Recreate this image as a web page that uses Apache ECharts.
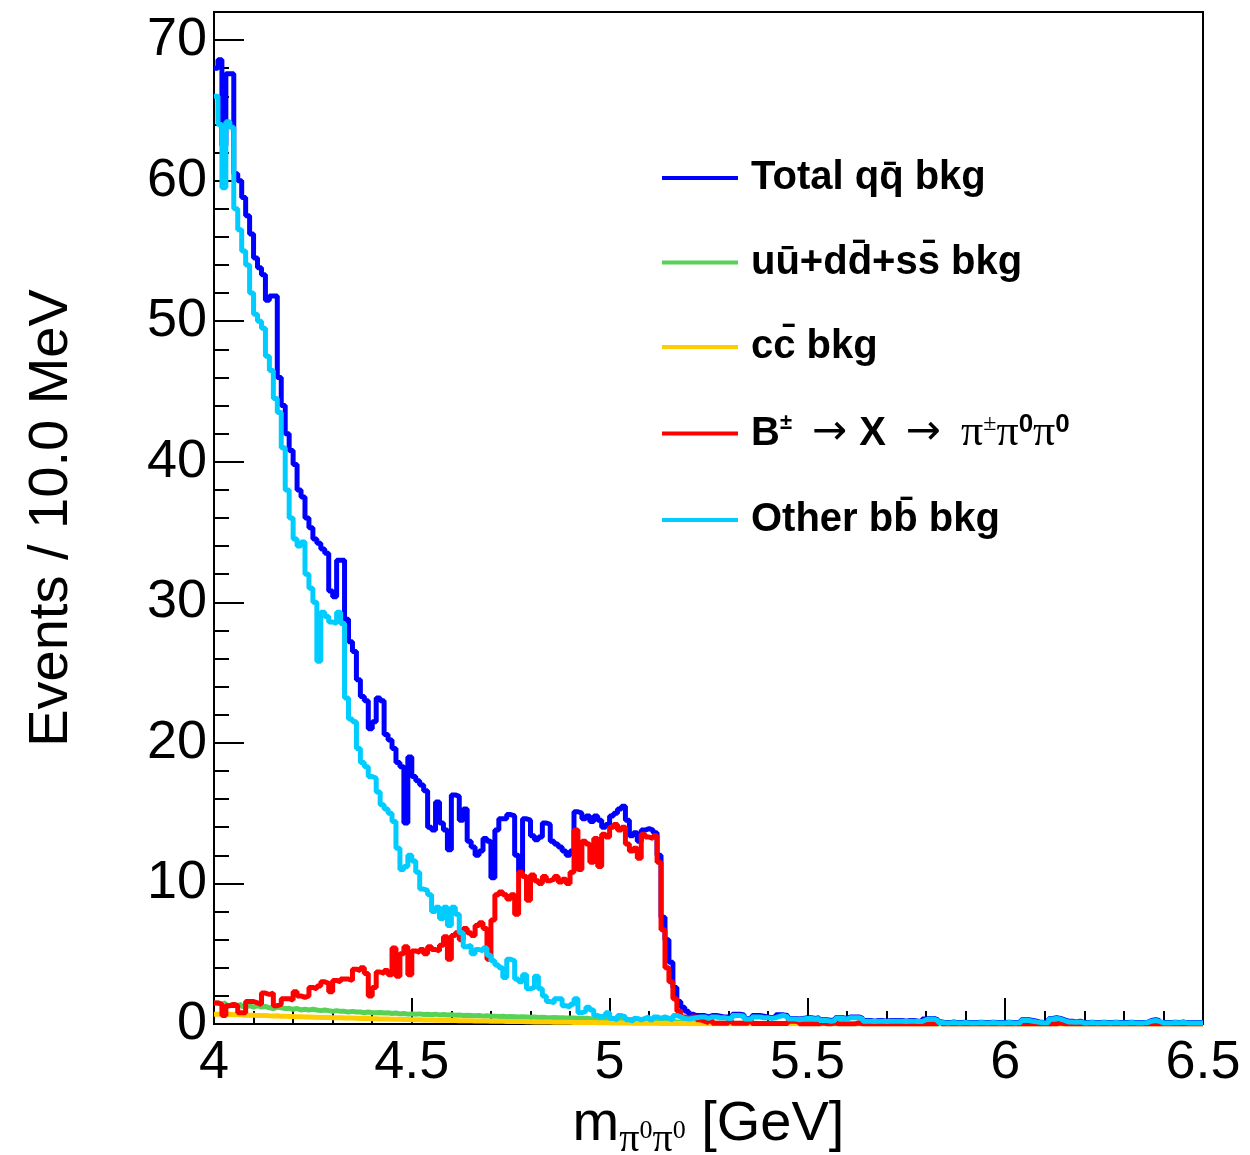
<!DOCTYPE html>
<html><head><meta charset="utf-8">
<script src="https://cdn.jsdelivr.net/npm/echarts@6/dist/echarts.min.js"></script>
<style>html,body{margin:0;padding:0;background:#fff}#c{width:1250px;height:1155px}</style>
</head><body><div id="c"></div>
<script>
// Histogram binning: 250 bins of 10 MeV from 4.0 GeV
const xStart = 4.0;
const binWidth = 0.01;
const xTicks = [4, 4.5, 5, 5.5, 6, 6.5];
const yTicks = [0, 10, 20, 30, 40, 50, 60, 70];

const seriesNames = ['Total qq\u0304 bkg', 'uu\u0304+dd\u0304+ss\u0304 bkg', 'cc\u0304 bkg', 'B\u00b1 \u2192 X \u2192 \u03c0\u00b1\u03c00\u03c00', 'Other bb\u0304 bkg'];

const totalQQ = [
68.0,68.6,62.5,67.6,67.6,60.5,60.0,58.8,57.5,56.2,54.5,53.8,53.3,51.5,51.8,51.8,46.0,44.0,42.0,40.8,39.8,38.0,37.5,36.0,35.3,
34.5,34.2,33.8,33.5,30.8,30.4,33.0,33.0,28.8,27.2,26.5,24.5,23.3,23.0,21.0,21.5,23.2,23.0,20.6,20.2,19.6,18.6,18.3,14.3,19.0,
17.6,17.3,17.0,16.6,14.0,13.8,15.8,14.3,13.8,12.4,16.3,16.2,14.5,15.3,13.0,12.6,12.0,12.3,13.2,13.0,10.4,13.8,14.6,14.6,14.9,
14.8,12.0,10.8,14.6,14.5,13.4,13.1,13.3,14.3,14.2,13.0,12.8,12.6,12.3,12.0,12.3,15.1,15.0,14.6,14.8,14.4,14.8,14.5,14.0,14.2,
14.8,15.0,15.3,15.5,14.5,13.4,13.6,13.0,13.8,13.9,13.8,13.6,12.0,7.6,6.0,4.4,2.6,1.6,1.2,0.9,0.7,0.6,0.6,0.6,0.5,
0.6,0.6,0.55,0.5,0.5,0.45,0.7,0.7,0.65,0.4,0.4,0.6,0.6,0.55,0.5,0.45,0.5,0.65,0.65,0.6,0.4,0.4,0.35,0.4,0.45,
0.45,0.4,0.45,0.3,0.3,0.25,0.3,0.45,0.45,0.4,0.5,0.5,0.5,0.4,0.25,0.25,0.2,0.25,0.25,0.2,0.25,0.25,0.25,0.25,0.2,
0.25,0.25,0.2,0.2,0.35,0.4,0.4,0.3,0.15,0.1,0.1,0.15,0.1,0.1,0.12,0.1,0.1,0.1,0.12,0.1,0.1,0.12,0.1,0.1,0.1,
0.12,0.1,0.1,0.12,0.3,0.3,0.25,0.2,0.12,0.1,0.12,0.4,0.45,0.4,0.3,0.2,0.2,0.15,0.2,0.1,0.1,0.12,0.1,0.1,0.12,
0.1,0.1,0.12,0.1,0.1,0.1,0.12,0.1,0.1,0.1,0.12,0.25,0.3,0.25,0.1,0.1,0.1,0.12,0.1,0.15,0.1,0.1,0.1,0.1,0.1
];

const udsBkg = [
1.5,1.4,1.5,1.3,1.4,1.3,1.4,1.25,1.3,1.2,1.3,1.2,1.25,1.15,1.1,1.2,1.15,1.1,1.1,1.05,1.1,1.0,1.05,1.0,1.05,
1.0,0.95,1.0,0.95,0.9,0.95,0.9,0.9,0.85,0.9,0.85,0.85,0.8,0.85,0.8,0.8,0.82,0.78,0.8,0.75,0.78,0.72,0.75,0.7,0.72,
0.7,0.72,0.68,0.7,0.66,0.7,0.65,0.68,0.64,0.66,0.62,0.64,0.6,0.62,0.6,0.58,0.6,0.56,0.58,0.55,0.56,0.54,0.55,0.52,0.54,
0.52,0.5,0.52,0.5,0.48,0.5,0.47,0.48,0.46,0.45,0.46,0.44,0.45,0.43,0.42,0.43,0.41,0.4,0.41,0.39,0.38,0.39,0.37,0.36,0.37,
0.35,0.34,0.35,0.33,0.32,0.32,0.3,0.31,0.29,0.28,0.28,0.26,0.25,0.22,0.2,0.18,0.15,0.12,0.1,0.09,0.08,0.08,0.07,0.07,0.06,
0.06,0.05,0.06,0.05,0.05,0.05,0.04,0.05,0.04,0.04,0.05,0.04,0.04,0.04,0.03,0.04,0.03,0.04,0.03,0.03,0.03,0.04,0.03,0.03,0.03,
0.03,0.03,0.02,0.03,0.03,0.02,0.03,0.02,0.03,0.02,0.02,0.02,0.03,0.02,0.02,0.02,0.02,0.02,0.02,0.02,0.02,0.02,0.02,0.02,0.02,
0.02,0.02,0.02,0.01,0.02,0.02,0.01,0.02,0.01,0.01,0.02,0.01,0.01,0.01,0.01,0.01,0.01,0.01,0.01,0.01,0.01,0.01,0.01,0.01,0.01,
0.01,0.01,0.01,0.01,0.01,0.01,0.01,0.01,0.01,0.01,0.01,0.01,0.01,0.01,0.01,0.01,0.01,0.01,0.01,0.01,0.01,0.01,0.01,0.01,0.01,
0.01,0.01,0.01,0.01,0.01,0.01,0.01,0.01,0.01,0.01,0.01,0.01,0.01,0.01,0.01,0.01,0.01,0.01,0.01,0.01,0.01,0.01,0.01,0.01,0.01
];

const ccBkg = [
0.7,0.72,0.68,0.7,0.66,0.65,0.66,0.63,0.62,0.63,0.6,0.61,0.6,0.58,0.57,0.58,0.55,0.56,0.54,0.53,0.52,0.52,0.5,0.5,0.48,
0.48,0.47,0.46,0.46,0.45,0.44,0.44,0.43,0.42,0.42,0.41,0.4,0.4,0.39,0.38,0.38,0.36,0.36,0.35,0.34,0.34,0.33,0.32,0.32,0.31,
0.3,0.3,0.29,0.29,0.28,0.27,0.27,0.26,0.26,0.25,0.25,0.24,0.24,0.23,0.23,0.22,0.22,0.21,0.21,0.2,0.2,0.19,0.19,0.18,0.18,
0.18,0.17,0.17,0.16,0.16,0.15,0.15,0.15,0.14,0.14,0.13,0.13,0.13,0.12,0.12,0.11,0.11,0.11,0.1,0.1,0.1,0.09,0.09,0.09,0.08,
0.08,0.08,0.07,0.07,0.07,0.06,0.06,0.06,0.05,0.05,0.05,0.05,0.04,0.04,0.04,0.03,0.03,0.03,0.03,0.02,0.02,0.02,0.02,0.02,0.02,
0.02,0.02,0.02,0.02,0.01,0.02,0.01,0.01,0.02,0.01,0.01,0.01,0.01,0.01,0.01,0.01,0.01,0.01,0.01,0.01,0.01,0.01,0.01,0.01,0.01,
0.01,0.01,0.01,0.01,0.01,0.01,0.01,0.01,0.01,0.01,0.01,0.01,0.01,0.01,0.01,0.01,0.01,0.01,0.01,0.01,0.01,0.01,0.01,0.01,0.01,
0,0,0,0,0,0,0,0,0,0,0,0,0,0,0,0,0,0,0,0,0,0,0,0,0,
0,0,0,0,0,0,0,0,0,0,0,0,0,0,0,0,0,0,0,0,0,0,0,0,0,
0,0,0,0,0,0,0,0,0,0,0,0,0,0,0,0,0,0,0,0,0,0,0,0,0
];

const signalB = [
1.5,1.4,0.6,1.3,1.4,1.3,0.8,0.8,1.6,1.6,1.5,1.4,2.2,2.1,2.2,1.3,1.4,1.8,1.8,1.7,2.3,2.0,1.9,2.0,2.6,
2.5,2.7,3.0,2.9,2.3,3.1,3.0,3.2,3.2,3.1,3.9,3.8,4.0,3.6,2.0,2.6,3.7,3.6,3.8,3.5,5.4,3.4,5.0,5.5,3.5,
5.2,5.1,5.3,5.0,5.5,5.3,5.2,5.6,6.2,4.6,6.3,6.5,6.0,6.8,6.5,6.3,7.0,7.2,6.8,4.6,7.4,9.2,9.4,9.2,8.9,
9.2,7.8,10.8,10.5,8.8,10.6,10.2,10.0,10.5,10.2,10.3,10.5,10.1,10.3,10.0,10.8,13.8,11.0,13.0,12.8,11.5,13.2,11.2,13.5,13.3,
14.0,14.2,13.8,14.0,12.8,12.3,12.5,11.8,13.5,13.3,13.2,13.4,11.5,6.7,4.0,3.0,1.8,0.9,0.5,0.4,0.5,0.5,0.3,0.2,0.1,
0.25,0.05,0.05,0.05,0.05,0.2,0.05,0.05,0.05,0.05,0.2,0.03,0.03,0.03,0.03,0.03,0.03,0.03,0.03,0.03,0.2,0.2,0.15,0,0,
0,0,0,0.1,0,0,0.1,0,0,0,0,0,0.1,0,0,0,0,0,0,0,0,0,0,0,0,
0,0,0,0,0,0,0,0,0.15,0,0,0,0,0,0,0,0,0,0,0,0,0,0,0,0,
0,0,0,0,0,0,0,0,0,0,0,0,0,0.1,0,0,0,0,0,0,0,0,0,0,0,
0,0,0,0,0,0,0,0,0,0,0,0,0,0,0,0,0,0,0,0,0,0,0,0,0
];

const otherBB = [
66.0,64.0,59.5,64.2,63.8,58.0,56.5,55.0,54.0,52.0,50.5,50.0,49.5,47.5,46.5,44.5,43.5,41.0,38.0,36.0,34.5,34.0,34.3,32.0,31.0,
30.0,25.8,29.3,29.0,28.6,28.5,29.3,28.5,23.2,21.7,21.5,19.6,18.6,18.3,17.6,17.5,16.5,15.6,15.3,15.0,14.4,12.5,11.0,11.2,12.0,
11.6,10.8,9.6,9.5,9.2,8.0,8.3,7.5,8.3,7.0,8.3,7.8,6.5,5.5,5.6,5.0,5.3,5.2,5.4,4.9,4.5,4.2,4.0,3.3,4.6,
4.5,3.2,3.0,3.5,2.5,2.6,3.4,2.5,2.0,1.6,1.5,1.8,1.8,1.3,1.2,1.4,1.8,0.8,0.9,1.2,1.0,0.6,0.5,0.6,0.8,
0.4,0.3,0.6,0.5,0.3,0.2,0.4,0.3,0.4,0.5,0.3,0.5,0.4,0.5,0.4,0.3,0.6,0.5,0.4,0.35,0.4,0.45,0.5,0.5,0.4,
0.5,0.5,0.45,0.45,0.4,0.4,0.6,0.6,0.55,0.35,0.35,0.5,0.5,0.45,0.45,0.4,0.45,0.55,0.6,0.5,0.35,0.35,0.3,0.35,0.4,
0.4,0.35,0.4,0.25,0.25,0.2,0.25,0.4,0.4,0.35,0.45,0.45,0.45,0.35,0.2,0.2,0.18,0.2,0.2,0.18,0.2,0.2,0.2,0.2,0.18,
0.2,0.2,0.18,0.18,0.3,0.35,0.35,0.25,0.1,0.08,0.08,0.1,0.08,0.08,0.1,0.08,0.08,0.08,0.1,0.08,0.08,0.1,0.08,0.08,0.08,
0.1,0.08,0.08,0.1,0.25,0.25,0.2,0.15,0.1,0.08,0.1,0.35,0.4,0.35,0.25,0.15,0.15,0.12,0.15,0.08,0.08,0.1,0.08,0.08,0.1,
0.08,0.08,0.1,0.08,0.08,0.08,0.1,0.08,0.08,0.08,0.1,0.2,0.25,0.2,0.08,0.08,0.08,0.1,0.08,0.12,0.08,0.08,0.08,0.08,0.08
];

const seriesColors = ['#0000ff', '#57d257', '#ffcc00', '#ff0000', '#00ccff'];

function toSteps(vals) {
  const d = vals.map((v, i) => [+(xStart + i * binWidth).toFixed(2), v]);
  d.push([+(xStart + vals.length * binWidth).toFixed(2), vals[vals.length - 1]]);
  return d;
}

const allData = [totalQQ, udsBkg, ccBkg, signalB, otherBB];
const legendRich = {
  '0': '{b|Total qq\u0304 bkg}',
  '1': '{b|uu\u0304+dd\u0304+ss\u0304 bkg}',
  '2': '{b|cc\u0304 bkg}',
  '3': '{b|B}{sup|\u00b1}{g1| }{arr|\u2192}{g2| }{b|X}{g1| }{arr|\u2192}{g1| }{pi|\u03c0}{supn|\u00b1}{pi|\u03c0}{supb|0}{pi|\u03c0}{supb|0}',
  '4': '{b|Other bb\u0304 bkg}'
};

const chart = echarts.init(document.getElementById('c'), null, {renderer: 'canvas'});
const FONT = 'Liberation Sans';
chart.setOption({
  animation: false,
  backgroundColor: '#fff',
  grid: {left: 214, right: 47, top: 12, bottom: 131, show: true, borderColor: '#000', borderWidth: 2,
    containLabel: false, outerBoundsMode: 'none'},
  xAxis: {
    type: 'value', min: 4, max: 6.5, interval: 0.5,
    axisLine: {show: true, onZero: false, lineStyle: {color: '#000', width: 2}},
    axisTick: {show: true, inside: true, length: 26, lineStyle: {color: '#000', width: 2}},
    minorTick: {show: true, splitNumber: 5, length: 13, lineStyle: {color: '#000', width: 2}},
    splitLine: {show: false},
    axisLabel: {fontFamily: FONT, fontSize: 54, color: '#000', margin: 12,
      formatter: v => (xTicks.indexOf(v) >= 0 ? String(v) : '')},
    name: '{m|m}{s|\u03c0}{ss|0}{s|\u03c0}{ss|0}{n| [GeV]}',
    nameLocation: 'middle', nameGap: 62,
    nameTextStyle: {
      rich: {
        m: {fontFamily: FONT, fontSize: 56, lineHeight: 60, color: '#000'},
        n: {fontFamily: FONT, fontSize: 56, lineHeight: 60, color: '#000'},
        s: {fontFamily: 'Liberation Serif', fontSize: 40, lineHeight: 60, height: 91, verticalAlign: 'top', color: '#000'},
        ss: {fontFamily: 'Liberation Serif', fontSize: 26, lineHeight: 60, height: 72, verticalAlign: 'top', color: '#000'}
      }
    }
  },
  yAxis: {
    type: 'value', min: 0, max: 72, interval: 10,
    axisLine: {show: true, lineStyle: {color: '#000', width: 2}},
    axisTick: {show: true, inside: true, length: 30, lineStyle: {color: '#000', width: 2}},
    minorTick: {show: true, splitNumber: 5, length: 15, lineStyle: {color: '#000', width: 2}},
    splitLine: {show: false},
    axisLabel: {fontFamily: FONT, fontSize: 54, color: '#000', margin: 7, showMaxLabel: false,
      formatter: v => (yTicks.indexOf(v) >= 0 ? String(v) : '')},
    name: 'Events / 10.0 MeV', nameLocation: 'middle', nameRotate: 90, nameGap: 134,
    nameTextStyle: {fontFamily: FONT, fontSize: 56, color: '#000'}
  },
  legend: {
    orient: 'vertical', left: 657, top: 153,
    itemWidth: 76, itemHeight: 4, itemGap: 44.5, icon: 'rect',
    data: seriesNames,
    formatter: name => legendRich[String(seriesNames.indexOf(name))],
    textStyle: {
      color: '#000', padding: [0, 0, 0, 8],
      rich: {
        b: {fontFamily: FONT, fontWeight: 'bold', fontSize: 40, lineHeight: 44, color: '#000'},
        sup: {fontFamily: FONT, fontWeight: 'bold', fontSize: 22, lineHeight: 24, verticalAlign: 'top', color: '#000'},
        arr: {fontFamily: 'DejaVu Sans', fontSize: 42, lineHeight: 44, color: '#000'},
        g1: {width: 20, lineHeight: 44},
        g2: {width: 12, lineHeight: 44},
        pi: {fontFamily: 'Liberation Serif', fontSize: 44, lineHeight: 44, color: '#000'},
        supn: {fontFamily: 'Liberation Serif', fontSize: 24, lineHeight: 24, verticalAlign: 'top', color: '#000'},
        supb: {fontFamily: FONT, fontWeight: 'bold', fontSize: 26, lineHeight: 26, verticalAlign: 'top', color: '#000'}
      }
    }
  },
  series: allData.map((vals, k) => ({
    name: seriesNames[k], type: 'line', step: 'end', symbol: 'none', showSymbol: false,
    data: toSteps(vals), z: 2 + k,
    color: seriesColors[k],
    lineStyle: {color: seriesColors[k], width: 5},
    emphasis: {disabled: true}
  }))
});
</script></body></html>
